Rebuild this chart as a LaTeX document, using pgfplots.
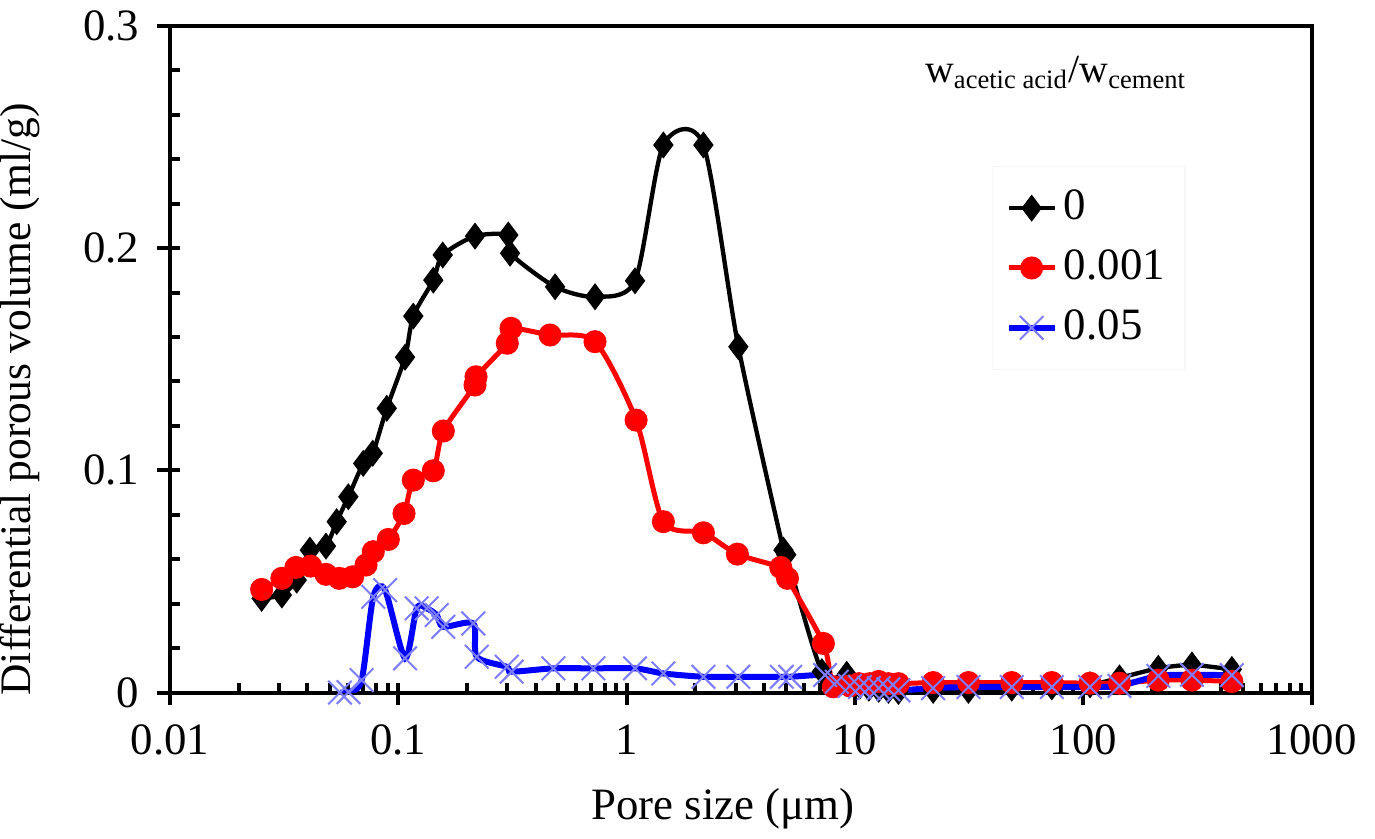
\documentclass[border=0pt]{standalone}
\usepackage{fontspec}
\setmainfont{Liberation Serif}
\usepackage{pgfplots}
\pgfplotsset{compat=1.18}
\definecolor{xblue}{RGB}{125,125,255}
\begin{document}
\fontsize{13.5}{16}\selectfont
\begin{tikzpicture}
\path[use as bounding box] (-51bp,-43.65bp) rectangle (361.5bp,207.77bp);
\begin{axis}[
  at={(0,0)}, anchor=south west,
  scale only axis, width=342.5bp, height=200bp,
  xmode=log, xmin=0.01, xmax=1000, ymin=0, ymax=0.3,
  xtick={0.01,0.1,1,10,100,1000}, xticklabels={0.01,0.1,1,10,100,1000},
  ytick={0,0.1,0.2,0.3}, yticklabels={0,0.1,0.2,0.3},
  minor y tick num=4,
  tick align=inside, xtick pos=left, ytick pos=left,
  major tick length=3bp, minor tick length=3bp,
  every tick/.style={black, line width=1.2bp},
  axis line style={line width=1.2bp},
  extra x ticks={0.01,0.1,1,10,100,1000}, extra x tick labels={},
  extra x tick style={tick align=outside, major tick length=3.8bp},
  extra y ticks={0,0.1,0.2,0.3}, extra y tick labels={},
  extra y tick style={tick align=outside, major tick length=3.8bp},
  /pgf/number format/assume math mode=true,
  ticklabel style={font=\fontsize{13.5}{16}\selectfont},
  yticklabel style={xshift=-4.5bp},
  xticklabel style={yshift=-5bp},
  xlabel={Pore size (μm)}, ylabel={Differential porous volume (ml/g)},
  label style={font=\fontsize{13.5}{16}\selectfont},
  xlabel style={xshift=-5.4bp, yshift=3bp},
  ylabel style={xshift=-12bp, font=\fontsize{13.1}{16}\selectfont},
  legend style={at={(rel axis cs:0.72,0.79)}, anchor=north west, draw=black!3, fill=white,
    row sep=3bp, inner xsep=4bp, inner ysep=5bp, font=\fontsize{13.5}{16}\selectfont},
  legend cell align=left,
  legend image code/.code={\draw[mark repeat=2,mark phase=2] plot coordinates {(0cm,0cm) (0.24cm,0cm) (0.48cm,0cm)};},
]
\addplot[black, line width=1.3bp, smooth, tension=0.45, mark=diamond*, mark size=3bp, mark options={solid, fill=black}] coordinates {
(0.0252,0.0424) (0.0309,0.0439) (0.0359,0.0506) (0.0410,0.0641) (0.0482,0.0659)
(0.0537,0.0769) (0.0604,0.0881) (0.0702,0.1031) (0.0773,0.1077) (0.0890,0.1279)
(0.1070,0.1509) (0.1163,0.1694) (0.1423,0.1856) (0.1565,0.1969) (0.2167,0.2054)
(0.3032,0.2059) (0.3085,0.1977) (0.4858,0.1826) (0.7268,0.1781) (1.088,0.1853)
(1.448,0.2464) (2.168,0.2464) (3.085,0.1556) (4.86,0.0641) (5.0,0.0620)
(7.16,0.0094) (9.2,0.0082) (10.5,0.003) (11.5,0.002) (12.7,0.0015) (14,0.001)
(15.5,0.0005) (22,0.001) (31.4,0.001) (48.6,0.002) (72.8,0.0025) (107,0.0035)
(144,0.0066) (213,0.0109) (299,0.0124) (447,0.0104)
};
\addlegendentry{0}
\addplot[red, line width=1.5bp, smooth, tension=0.45, mark=*, mark size=2.7bp, mark options={solid, fill=red}] coordinates {
(0.0252,0.0464) (0.0309,0.0514) (0.0356,0.0563) (0.0413,0.0569) (0.0482,0.0532)
(0.0551,0.0514) (0.0631,0.0521) (0.0722,0.0574) (0.0777,0.0634) (0.0904,0.0689)
(0.1059,0.0806) (0.1163,0.0956) (0.1423,0.0998) (0.1574,0.1177) (0.2167,0.1384)
(0.2189,0.1421) (0.300,0.1572) (0.3115,0.1639) (0.4618,0.1609) (0.7268,0.1579)
(1.0997,0.1226) (1.448,0.0769) (2.168,0.0719) (3.054,0.0623) (4.73,0.0563)
(5.06,0.0514) (7.27,0.0221) (8.04,0.0026) (9.5,0.003) (10.4,0.004) (11.6,0.004)
(12.7,0.005) (14,0.004) (15.5,0.004) (22,0.0045) (31.4,0.0045) (48.6,0.0045)
(72.8,0.0045) (107,0.0042) (144,0.0042) (213,0.0056) (299,0.0056) (447,0.005)
};
\addlegendentry{0.001}
\addplot[blue, line width=1.8bp, smooth, tension=0.45, mark=x, mark size=5bp, mark options={solid, xblue, line width=0.6bp}] coordinates {
(0.0555,0) (0.0605,0.0002) (0.0691,0.0056) (0.0777,0.0431) (0.0875,0.0461)
(0.107,0.0154) (0.1204,0.0379) (0.1331,0.0379) (0.1473,0.0349) (0.1574,0.0296)
(0.2131,0.0311) (0.2205,0.0161) (0.2984,0.0116) (0.3137,0.0094) (0.4775,0.0109)
(0.7148,0.0109) (1.088,0.0109) (1.448,0.0086) (2.168,0.0071) (3.085,0.0071)
(4.78,0.0071) (5.2,0.0071) (7.4,0.0079) (8.32,0.0049) (9.5,0.003) (10.5,0.0025)
(11.5,0.002) (12.7,0.002) (14,0.0015) (15.5,0.001) (22,0.002) (31.4,0.0025)
(48.6,0.0025) (72.8,0.0025) (107,0.0025) (144,0.003) (213,0.0075) (299,0.008)
(447,0.0078)
};
\addlegendentry{0.05}
\node[font=\fontsize{12}{14}\selectfont] at (rel axis cs:0.776,0.93) {w\textsubscript{acetic acid}/w\textsubscript{cement}};
\end{axis}
\end{tikzpicture}
\end{document}
